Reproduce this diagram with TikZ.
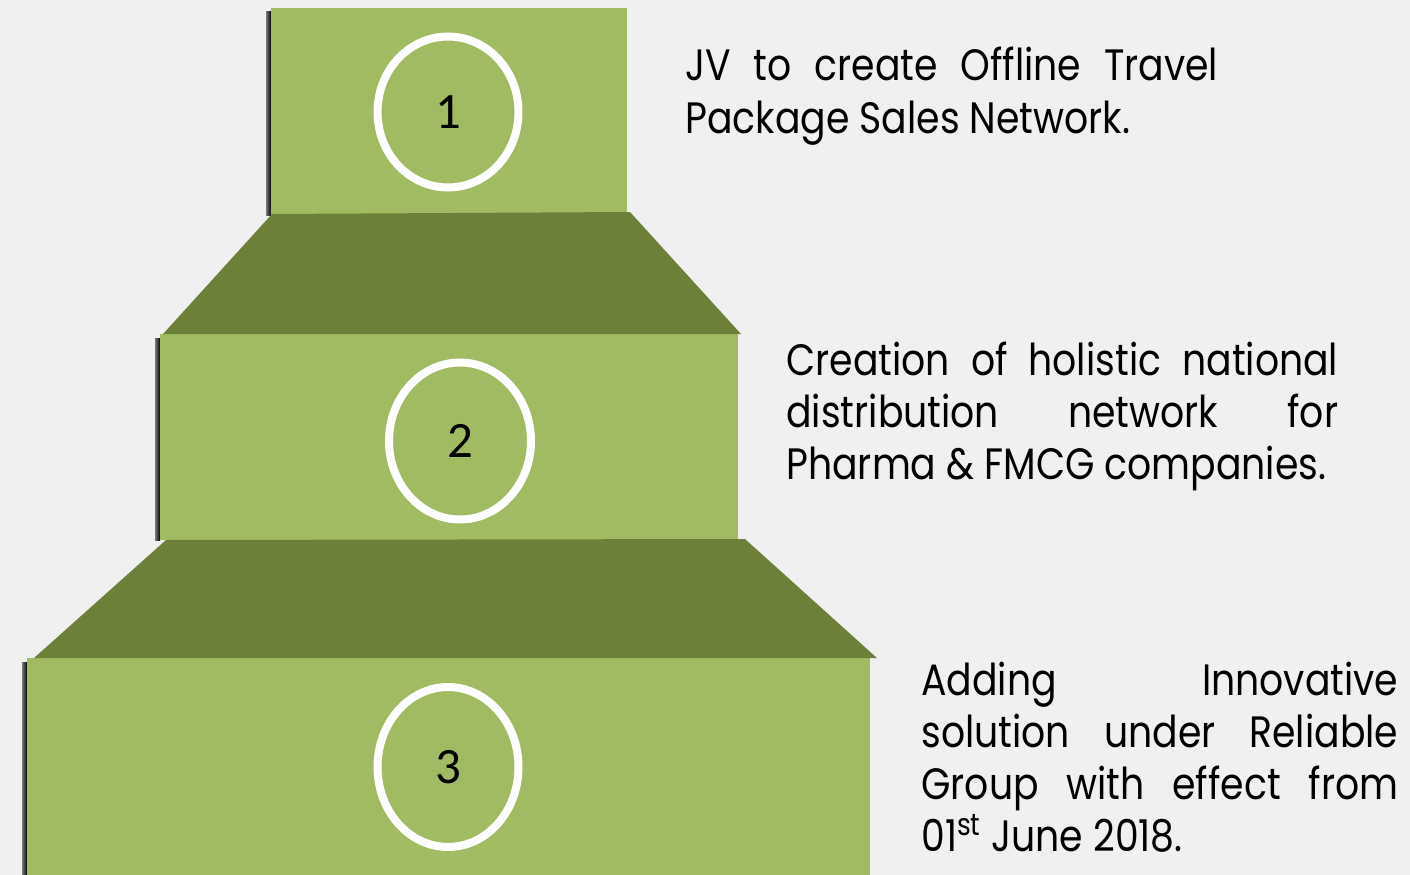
\documentclass[tikz,border=0pt]{standalone}
\usepackage{fontspec}
\usepackage{tikz}
\usetikzlibrary{shapes.geometric}
\newfontfamily\notefont[FakeStretch=0.86]{Poppins}
\newfontfamily\numfont{Carlito}
\definecolor{bgGray}{RGB}{240,240,240}
\definecolor{lightOlive}{RGB}{161,187,99}
\definecolor{darkOlive}{RGB}{109,128,57}
\tikzstyle{tier} = [fill=lightOlive]
\tikzstyle{ledge} = [fill=darkOlive]
\tikzstyle{edgeshade} = [left color=bgGray!50!black, right color=black]
\tikzstyle{ring} = [ellipse, draw=white, line width=0.16cm, inner sep=0pt, font=\numfont\fontsize{29}{33}\selectfont]
\tikzstyle{note} = [anchor=base west, inner sep=0pt, align=justify, font=\notefont\fontsize{25}{29.6}\selectfont,
  execute at begin node={\tolerance=10000\relax\hyphenpenalty=10000\relax}]

\begin{document}
\begin{tikzpicture}[x=0.02cm,y=-0.02cm]
\useasboundingbox (0,0) rectangle (1410,875);
\fill[bgGray] (0,0) rectangle (1410,875);

% shadows on the left edges
\shade[edgeshade] (266,12) rectangle (271,215);
\shade[edgeshade] (155,338) rectangle (160,540);
\shade[edgeshade] (22,662) rectangle (27,875);

% the three tiers
\fill[tier] (271,8) rectangle (627,215);
\fill[tier] (160,334) rectangle (738,540);
\fill[tier] (27,658) rectangle (870,875);

% the ledges between them
\fill[ledge] (272,214) -- (630,212) -- (741,334) -- (163,334) -- cycle;
\fill[ledge] (166,540) -- (745,539) -- (877,658) -- (34,658) -- cycle;

\node (one) [ring, minimum width=2.82cm, minimum height=3.02cm] at (448,112) {1};
\node (two) [ring, minimum width=2.84cm, minimum height=3.14cm] at (460,441) {2};
\node (three) [ring, minimum width=2.82cm, minimum height=3.2cm] at (448,767) {3};

\node (noteOne) [note, text width=10.66cm] at (685,81) {JV to create Offline Travel\linebreak Package Sales Network.};
\node (noteTwo) [note, text width=11.04cm] at (786,375) {Creation of holistic national\linebreak distribution network for\linebreak Pharma \& FMCG companies.};
\node (noteThree) [note, text width=9.54cm] at (921,695) {Adding Innovative\linebreak solution under Reliable\linebreak Group with effect from\linebreak 01\textsuperscript{st} June 2018.};
\end{tikzpicture}
\end{document}
